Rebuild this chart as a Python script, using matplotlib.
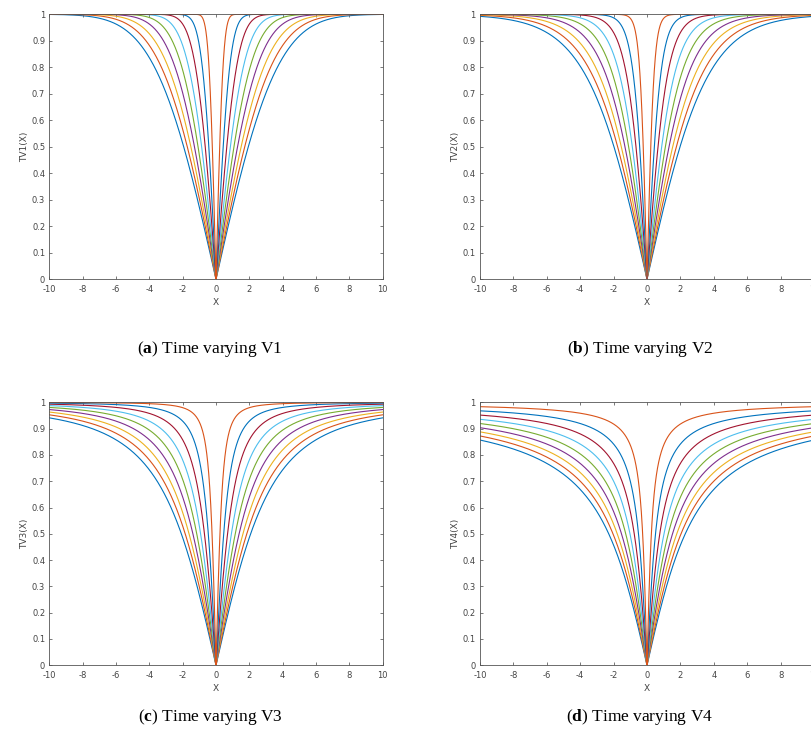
import numpy as np
import matplotlib
matplotlib.use("Agg")
import matplotlib.pyplot as plt
from math import erf

plt.rcParams["axes.unicode_minus"] = False
plt.rcParams["mathtext.fontset"] = "custom"
plt.rcParams["mathtext.rm"] = "Liberation Serif"
plt.rcParams["mathtext.bf"] = "Liberation Serif:bold"

# time varying control parameter tau (outermost curve first)
tau_values = [3.6, 3.2, 2.8, 2.4, 2.0, 1.6, 1.2, 0.8, 0.41]

x_ticks = [-10, -8, -6, -4, -2, 0, 2, 4, 6, 8, 10]
y_ticks = [0, 0.1, 0.2, 0.3, 0.4, 0.5, 0.6, 0.7, 0.8, 0.9, 1]
y_ticklabels = ["0", "0.1", "0.2", "0.3", "0.4", "0.5", "0.6", "0.7", "0.8", "0.9", "1"]

y_labels = ["TV1(X)", "TV2(X)", "TV3(X)", "TV4(X)"]
captions = [("a", "V1"), ("b", "V2"), ("c", "V3"), ("d", "V4")]

# MATLAB default line colours
colors = ["#0072BD", "#D95319", "#EDB120", "#7E2F8E", "#77AC30", "#4DBEEE", "#A2142F"]

erf_vec = np.vectorize(erf)


def v1(x, tau):
    return np.abs(erf_vec(np.sqrt(np.pi) / 2 * x / tau))


def v2(x, tau):
    return np.abs(np.tanh(x / tau))


def v3(x, tau):
    z = x / tau
    return np.abs(z / np.sqrt(1 + z ** 2))


def v4(x, tau):
    return np.abs(2 / np.pi * np.arctan(np.pi / 2 * x / tau))


funcs = [v1, v2, v3, v4]

W, H = 812, 749
fig = plt.figure(figsize=(W / 100, H / 100), dpi=100)

# axes boxes in pixels: left, top, right, bottom
boxes = [(49.3, 14.3, 382.7, 279.3), (480.0, 14.3, 814.0, 279.3),
         (49.3, 402.3, 382.7, 665.3), (480.0, 402.3, 814.0, 665.3)]
caption_pos = [(210, 349), (640, 349), (210, 717), (640, 717)]

x = np.linspace(-10, 10, 4001)

for i in range(4):
    l, t, r, b = boxes[i]
    ax = fig.add_axes([l / W, 1 - b / H, (r - l) / W, (b - t) / H])
    for k, tau in enumerate(tau_values):
        ax.plot(x, funcs[i](x, tau), color=colors[k % len(colors)], lw=0.8)
    ax.set_xlim(-10, 10)
    ax.set_ylim(0, 1)
    ax.set_xticks(x_ticks)
    ax.set_yticks(y_ticks)
    ax.set_yticklabels(y_ticklabels)
    ax.tick_params(direction="in", length=2.5, width=0.5, labelsize=6,
                   colors="#444444", top=True, right=True)
    ax.tick_params(axis="x", pad=4)
    ax.tick_params(axis="y", pad=3)
    for s in ax.spines.values():
        s.set_color("#555555")
        s.set_linewidth(0.6)
    ax.set_xlabel("X", fontsize=6.5, color="#444444", labelpad=3)
    ax.set_ylabel(y_labels[i], fontsize=6.5, color="#444444", labelpad=2)

    cx, cy = caption_pos[i]
    letter, name = captions[i]
    fig.text(cx / W, 1 - cy / H, r"($\mathbf{" + letter + r"}$) Time varying " + name,
             ha="center", va="center", fontsize=12.5, family="Liberation Serif")

fig.savefig("out.png", dpi=100)
